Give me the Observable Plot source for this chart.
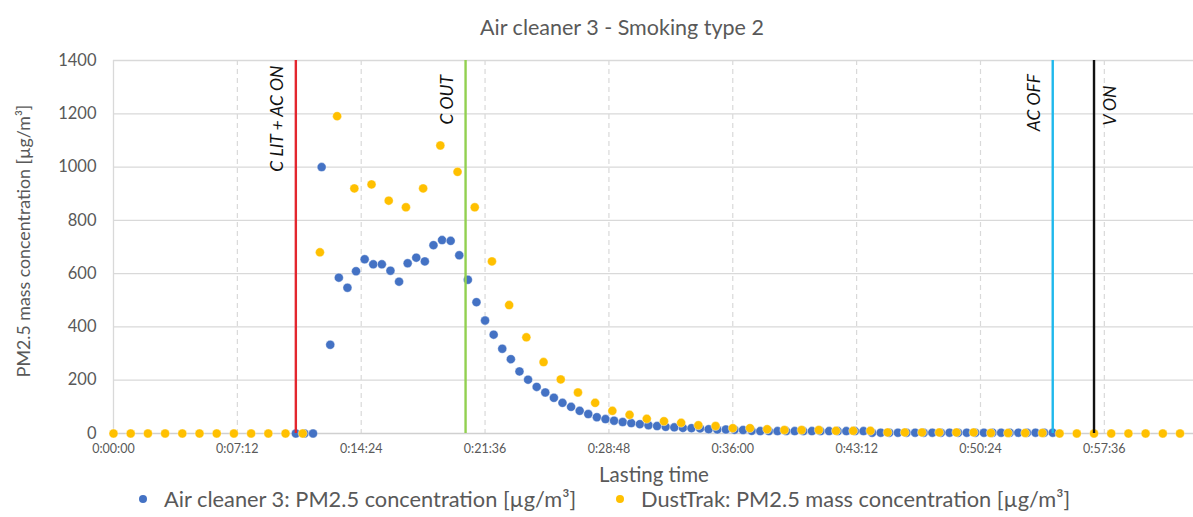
<!DOCTYPE html>
<html>
<head>
<meta charset="utf-8">
<script src="https://cdn.jsdelivr.net/npm/d3@7"></script>
<script src="https://cdn.jsdelivr.net/npm/@observablehq/plot@0.6"></script>
<style>
  html, body { margin: 0; padding: 0; background: #fff; }
  #wrap { position: relative; width: 1193px; height: 517px; font-family: Lato, "Open Sans", sans-serif; color: #595959; overflow: hidden; }
  #wrap svg { position: absolute; left: 0; top: 0; }
  .abs { position: absolute; white-space: nowrap; line-height: 1; }
  .dot { position: absolute; width: 8px; height: 8px; border-radius: 50%; }
</style>
</head>
<body>
<div id="wrap"></div>
<script>
// ---- Data ----
const titleText = "Air cleaner 3 - Smoking type 2";
const xLabel = "Lasting time";
const yLabel = "PM2.5 mass concentration [µg/m³]";
const seriesNames = ["Air cleaner 3: PM2.5 concentration [µg/m³]", "DustTrak: PM2.5 mass concentration [µg/m³]"];
const seriesColors = ["#4472C4", "#FFC000"];

// Air cleaner 3: one reading every 30 s starting at 0:10:36
const acStart = 636;
const acStep = 30;
const acValues = [0,0,0,1000,333,585,547,609,654,635,635,611,570,639,660,646,707,726,723,669,577,493,424,371,318,279,233,202,175,154,134,115,100,85,73,61,54,48,43,39,35,31,28,25,23,21,20,19,16,15,15,14,13,10,9,9,9,9,9,9,9,9,9,9,9,9,9,3,3,3,3,3,3,3,3,3,3,3,3,3,3,3,3,3,3,3,3,3,3];

// DustTrak: one reading every 60 s starting at 0:00:00
const dtStart = 0;
const dtStep = 60;
const dtValues = [0,0,0,0,0,0,0,0,0,0,0,0,680,1191,920,935,874,849,920,1081,982,849,646,482,361,268,203,154,115,85,70,55,46,40,31,28,20,20,16,13,13,13,10,10,10,4,4,4,4,4,4,2,2,2,2,0,0,0,0,0,0,0,0];

// Event markers (seconds)
const eventNames = ["C LIT + AC ON", "C OUT", "AC OFF", "V ON"];
const eventTimes = [636, 1228, 3276, 3420];
const eventColors = ["#E3262E", "#92D050", "#1FB8EC", "#111111"];
const eventLabelY = [1182, 1253, 1242, 1231];
const eventLabelSide = [-1, -1, -1, 1];

const xTicks = [0, 432, 864, 1296, 1728, 2160, 2592, 3024, 3456];
const yTicks = [0, 200, 400, 600, 800, 1000, 1200, 1400];

// ---- Build tables ----
const ac = acValues.map((v, i) => ({t: acStart + i * acStep, v}));
const dt = dtValues.map((v, i) => ({t: dtStart + i * dtStep, v}));
const events = eventNames.map((name, i) => ({name, t: eventTimes[i], color: eventColors[i], ly: eventLabelY[i], side: eventLabelSide[i]}));

const fmt = s => `${Math.floor(s / 3600)}:${String(Math.floor(s % 3600 / 60)).padStart(2, "0")}:${String(s % 60).padStart(2, "0")}`;

const chart = Plot.plot({
  width: 1193,
  height: 517,
  marginLeft: 113,
  marginRight: 0,
  marginTop: 60,
  marginBottom: 84,
  style: {fontFamily: "Lato, 'Open Sans', sans-serif", background: "transparent", overflow: "visible"},
  x: {domain: [0, 3767], ticks: xTicks, tickFormat: fmt, label: null},
  y: {domain: [0, 1400], ticks: yTicks, tickFormat: d => String(d), label: null},
  marks: [
    Plot.ruleY(yTicks.filter(d => d > 0), {stroke: "#D9D9D9", strokeWidth: 1.3}),
    Plot.ruleX(xTicks.filter(d => d > 0), {stroke: "#D9D9D9", strokeWidth: 1.2, strokeDasharray: "5,4"}),
    Plot.ruleX([0], {stroke: "#D9D9D9", strokeWidth: 1.3}),
    Plot.ruleY([0], {stroke: "#D0D0D0", strokeWidth: 1.5}),
    Plot.axisY({ticks: yTicks, tickSize: 0, tickPadding: 17, fontSize: 16.5, color: "#595959", tickFormat: d => String(d), label: null}),
    Plot.axisX({ticks: xTicks, tickSize: 0, tickPadding: 11, fontSize: 12.5, color: "#595959", tickFormat: fmt, label: null}),
    Plot.dot(ac, {x: "t", y: "v", r: 4.5, fill: seriesColors[0], stroke: "white", strokeWidth: 0.4}),
    Plot.dot(dt, {x: "t", y: "v", r: 4.5, fill: seriesColors[1], stroke: "white", strokeWidth: 0.4}),
    Plot.ruleX(events, {x: "t", stroke: "color", strokeWidth: 2.4}),
    Plot.text(events.filter(d => d.side < 0), {x: "t", y: "ly", text: "name", rotate: -90, dx: -18, fontSize: 17.5, fontStyle: "italic", fill: "#111", textAnchor: "middle"}),
    Plot.text(events.filter(d => d.side > 0), {x: "t", y: "ly", text: "name", rotate: -90, dx: 16, fontSize: 17.5, fontStyle: "italic", fill: "#111", textAnchor: "middle"})
  ]
});

const wrap = document.getElementById("wrap");
wrap.appendChild(chart);

function addText(txt, css) {
  const d = document.createElement("div");
  d.className = "abs";
  d.textContent = txt;
  Object.assign(d.style, css);
  wrap.appendChild(d);
  return d;
}
// Title
addText(titleText, {left: "622px", top: "28px", transform: "translate(-50%,-50%)", fontSize: "21.5px"});
// X label
addText(xLabel, {left: "654px", top: "474px", transform: "translate(-50%,-50%)", fontSize: "20.5px"});
// Y label
addText(yLabel, {left: "24px", top: "241px", transform: "translate(-50%,-50%) rotate(-90deg)", fontSize: "17.8px"});
// Legend
seriesNames.forEach((name, i) => {
  const cx = [143, 620][i];
  const dot = document.createElement("div");
  dot.className = "dot";
  dot.style.background = seriesColors[i];
  dot.style.left = (cx - 4) + "px";
  dot.style.top = (499 - 4) + "px";
  wrap.appendChild(dot);
  addText(name, {left: (cx + 21) + "px", top: "499px", transform: "translate(0,-50%)", fontSize: "21.8px"});
});
</script>
</body>
</html>
